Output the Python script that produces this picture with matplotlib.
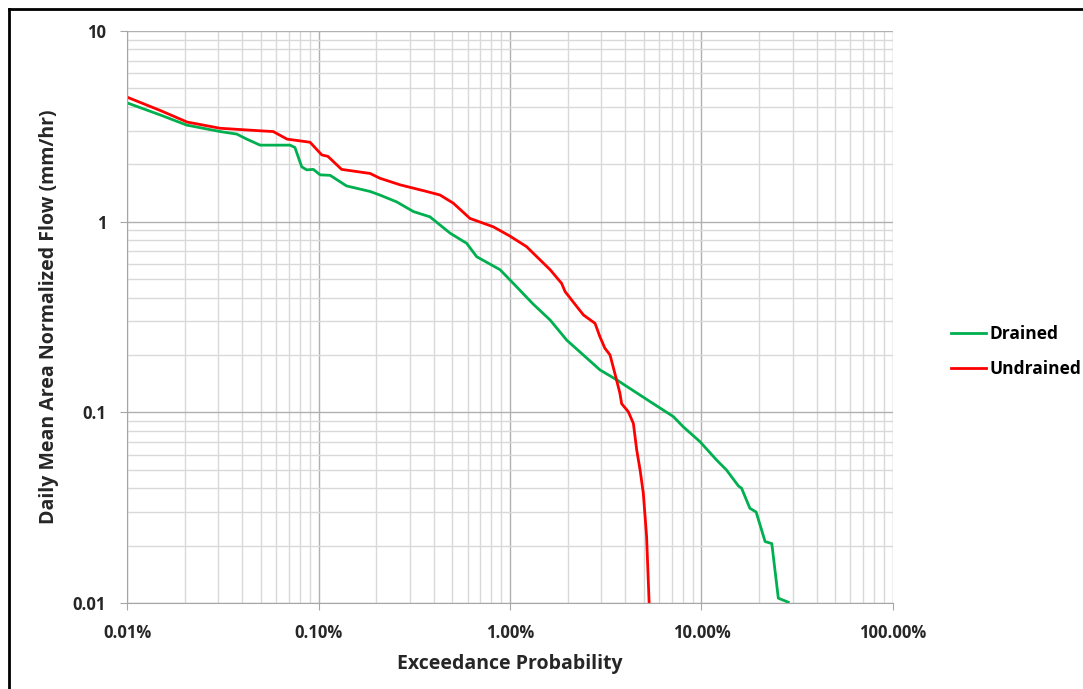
import numpy as np
import matplotlib.pyplot as plt
from matplotlib.ticker import LogLocator, FixedLocator, FuncFormatter, NullFormatter
from matplotlib.lines import Line2D

plt.rcParams['font.family'] = ['Open Sans', 'DejaVu Sans']
plt.rcParams['font.weight'] = 'bold'

# exceedance probability (%) and flow (mm/hr)
drainedP = [0.01, 0.015, 0.0205, 0.0306, 0.0374, 0.0422, 0.0495, 0.071, 0.0753, 0.0817, 0.0867,
            0.094, 0.102, 0.115, 0.140, 0.186, 0.209, 0.256, 0.313, 0.382, 0.487, 0.594,
            0.67, 0.887, 1.04, 1.32, 1.62, 1.98, 2.95, 3.61, 5.38, 7.13, 8.03, 9.82, 12.0,
            13.5, 15.6, 16.2, 17.9, 19.3, 21.5, 23.3, 25.2, 28.4]
drainedQ = [4.2, 3.62, 3.21, 2.97, 2.88, 2.71, 2.52, 2.52, 2.45, 1.94, 1.87,
            1.88, 1.76, 1.75, 1.54, 1.44, 1.38, 1.27, 1.13, 1.06, 0.87, 0.77,
            0.655, 0.56, 0.475, 0.37, 0.305, 0.239, 0.167, 0.148, 0.114, 0.095, 0.084, 0.0702, 0.0562,
            0.0499, 0.0411, 0.040, 0.0314, 0.030, 0.021, 0.0205, 0.0106, 0.0101]

undrainedP = [0.01, 0.015, 0.0206, 0.0306, 0.0513, 0.058, 0.0685, 0.0903, 0.104, 0.112, 0.132,
              0.186, 0.209, 0.267, 0.367, 0.431, 0.506, 0.618, 0.818, 1.0, 1.22, 1.62,
              1.86, 1.94, 2.10, 2.42, 2.78, 2.95, 3.13, 3.33, 3.53, 3.75, 3.83, 4.15,
              4.41, 4.59, 4.78, 4.97, 5.17, 5.33]
undrainedQ = [4.5, 3.82, 3.33, 3.09, 2.99, 2.97, 2.71, 2.61, 2.24, 2.2, 1.88,
              1.79, 1.69, 1.56, 1.44, 1.38, 1.25, 1.04, 0.94, 0.84, 0.74, 0.56,
              0.475, 0.43, 0.388, 0.324, 0.293, 0.249, 0.217, 0.200, 0.160, 0.126, 0.111, 0.1007,
              0.0875, 0.0635, 0.0499, 0.0376, 0.0223, 0.01]

xTicks = [0.01, 0.1, 1, 10, 100]
yTicks = [0.01, 0.1, 1, 10]

fig = plt.figure(figsize=(10.83, 6.89), dpi=100)
ax = fig.add_axes([0.1173, 0.1248, 0.7072, 0.8302])

ax.plot(drainedP, drainedQ, color='#00B050', lw=2.0, label='Drained')
ax.plot(undrainedP, undrainedQ, color='#FF0000', lw=2.0, label='Undrained')

ax.set_xscale('log')
ax.set_yscale('log')
ax.set_xlim(0.01, 100)
ax.set_ylim(0.01, 10)

ax.xaxis.set_major_locator(FixedLocator(xTicks))
ax.yaxis.set_major_locator(FixedLocator(yTicks))
ax.xaxis.set_minor_locator(LogLocator(base=10, subs=np.arange(2, 10)))
ax.yaxis.set_minor_locator(LogLocator(base=10, subs=np.arange(2, 10)))
ax.xaxis.set_minor_formatter(NullFormatter())
ax.yaxis.set_minor_formatter(NullFormatter())
ax.xaxis.set_major_formatter(FuncFormatter(lambda v, pos: f'{v:.2f}%'))
ax.yaxis.set_major_formatter(FuncFormatter(lambda v, pos: f'{v:g}'))

ax.grid(True, which='major', color='#b0b0b0', lw=1.0)
ax.grid(True, which='minor', color='#d9d9d9', lw=1.0)
ax.set_axisbelow(True)

for side in ['top', 'right']:
    ax.spines[side].set_visible(False)
for side in ['left', 'bottom']:
    ax.spines[side].set_color('#a6a6a6')

ax.tick_params(axis='both', which='major', length=5, color='#a6a6a6',
               labelsize=12, pad=10, labelcolor='#262626')
ax.tick_params(axis='both', which='minor', length=0)

ax.set_xlabel('Exceedance Probability', fontsize=14, fontweight='bold', labelpad=9, color='#262626')
ax.set_ylabel('Daily Mean Area Normalized Flow (mm/hr)', fontsize=14, fontweight='bold',
              labelpad=10, color='#262626')

handles = [Line2D([0], [0], color='#00B050', lw=2.0), Line2D([0], [0], color='#FF0000', lw=2.0)]
fig.legend(handles, ['Drained', 'Undrained'], loc='center left', bbox_to_anchor=(0.864, 0.49),
           frameon=False, fontsize=12.5, handlelength=2.0, handletextpad=0.2, labelspacing=1.0)

# outer frame (left and top edges visible)
fig.add_artist(Line2D([0.0085, 0.0085], [0, 0.987], transform=fig.transFigure, color='black', lw=2))
fig.add_artist(Line2D([0.0085, 1.0], [0.987, 0.987], transform=fig.transFigure, color='black', lw=2))

fig.savefig('out.png', dpi=100)
